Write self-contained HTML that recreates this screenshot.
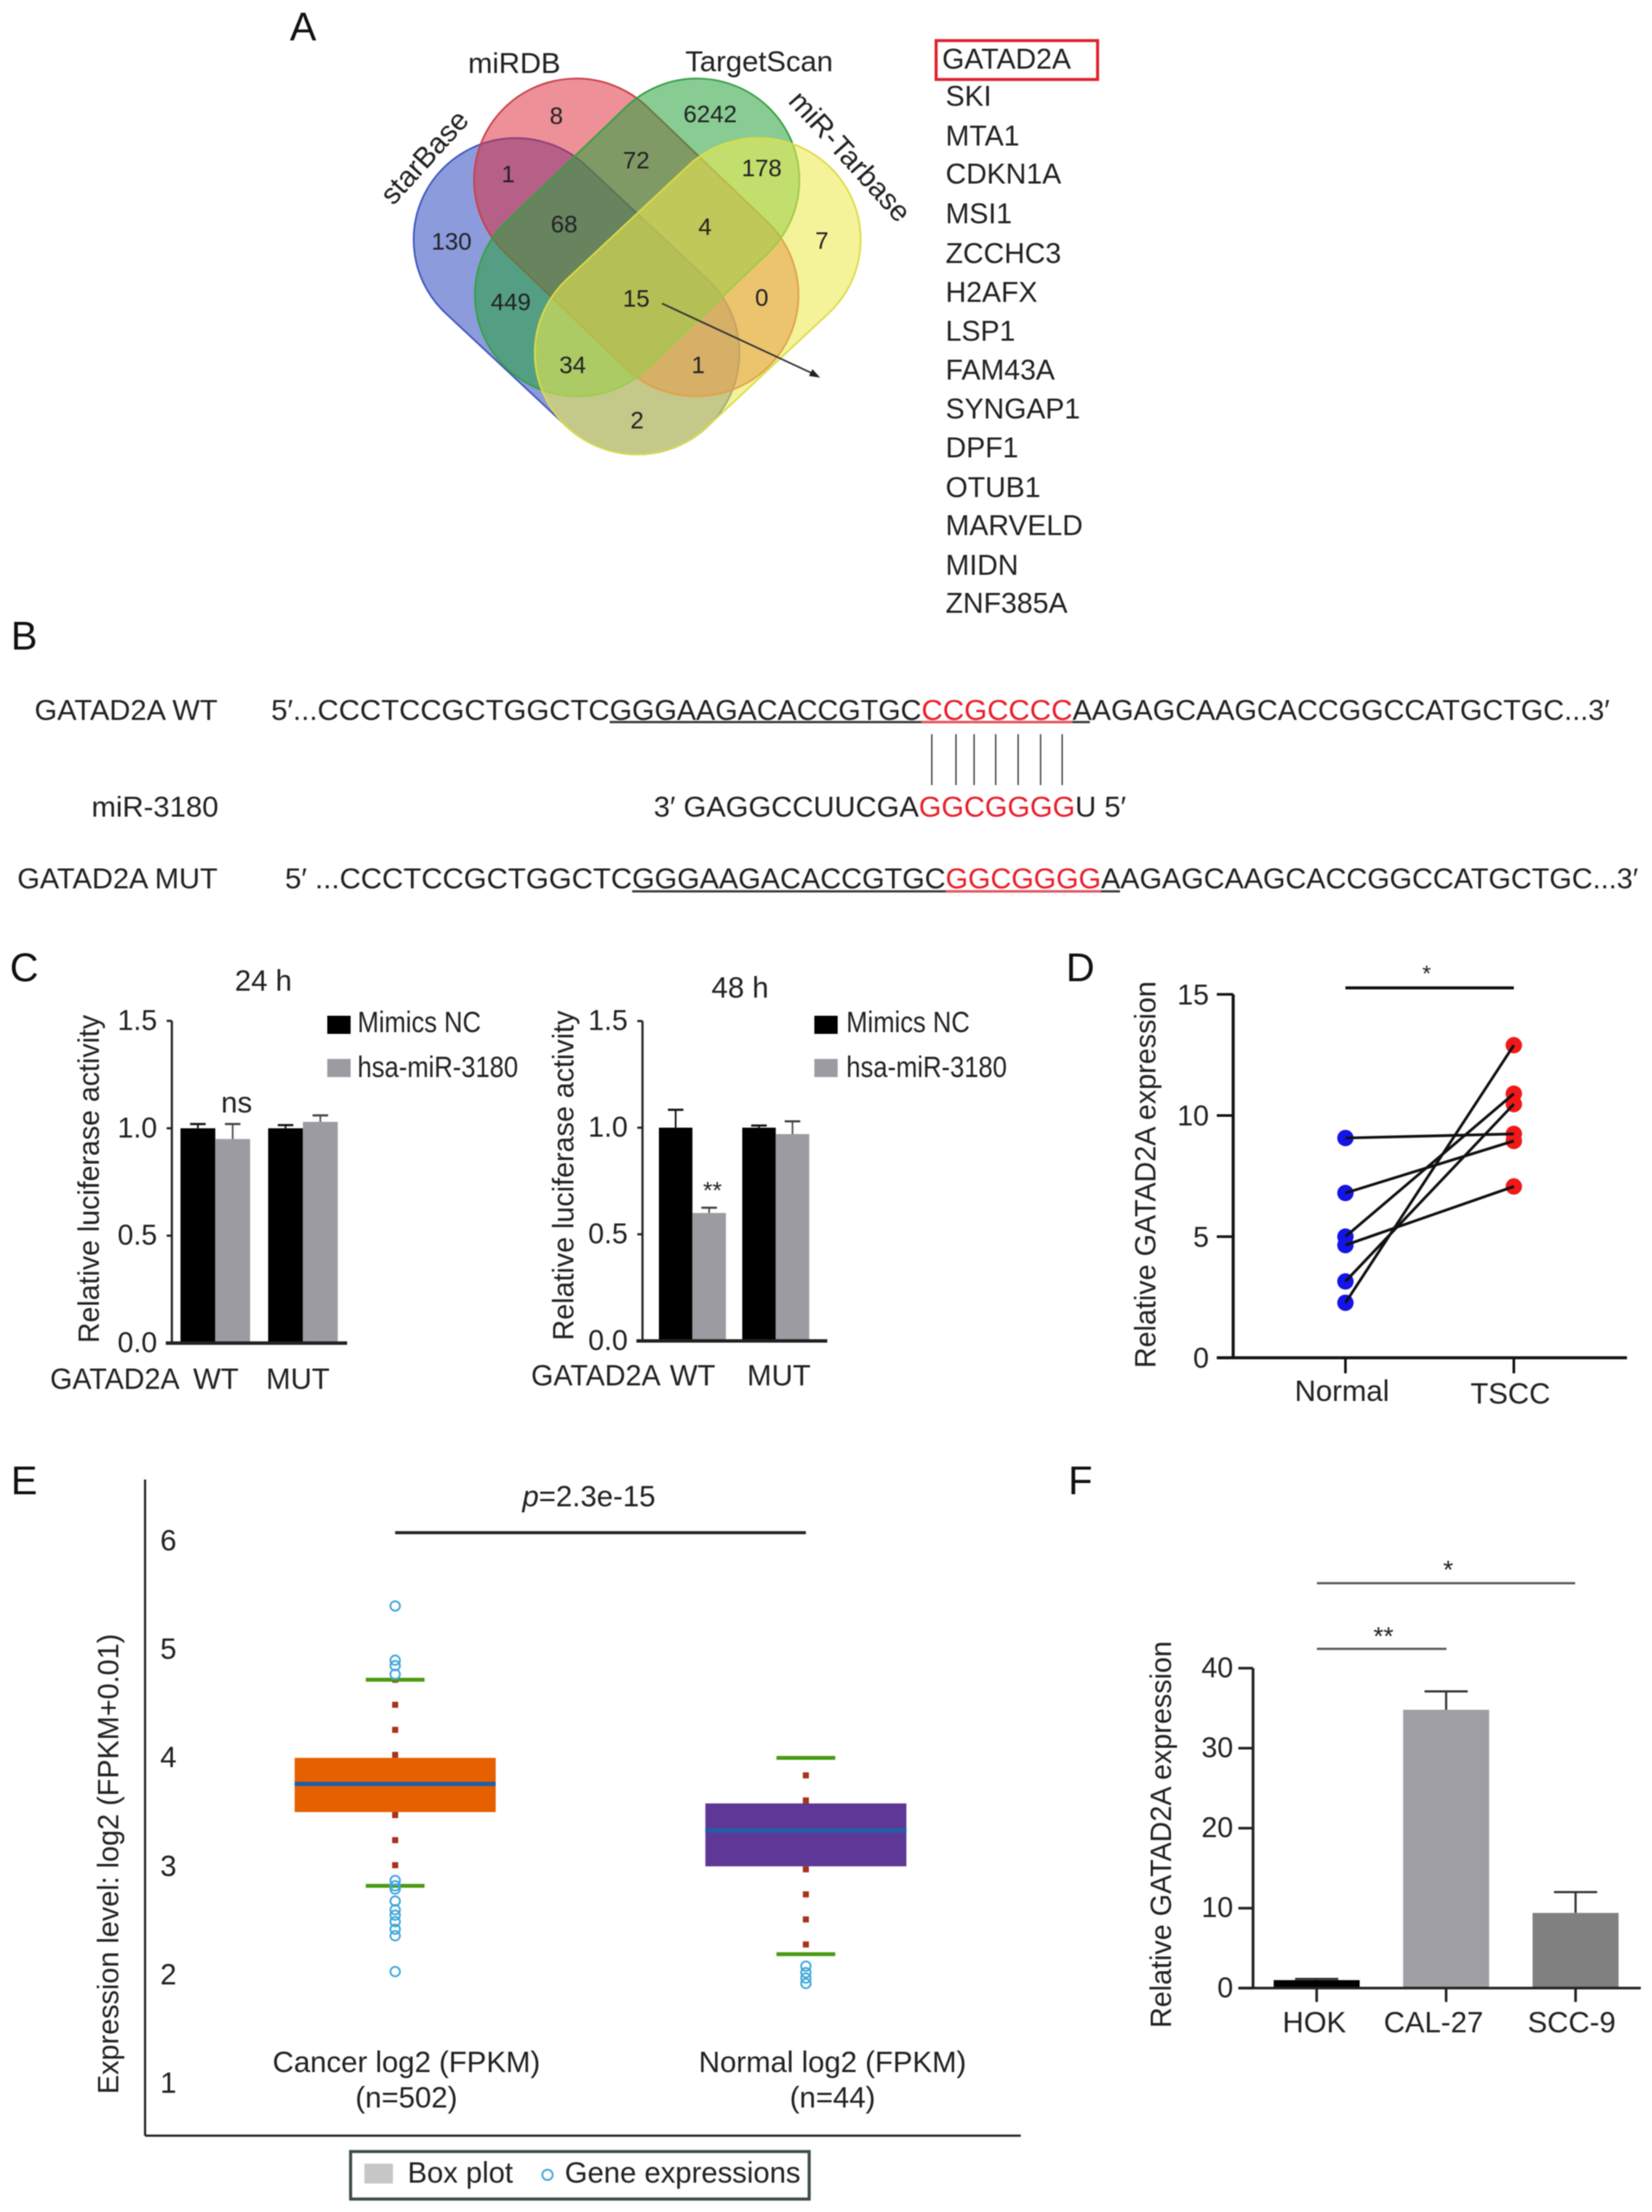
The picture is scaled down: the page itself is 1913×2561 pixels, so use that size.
<!DOCTYPE html>
<html lang="en">
<head>
<meta charset="utf-8">
<title>GATAD2A figure</title>
<style>
html,body{margin:0;padding:0;background:#fff}
svg{display:block;filter:blur(.5px)}
text{font-family:"Liberation Sans",sans-serif;font-size:34px;fill:#222;dominant-baseline:central}
.m{text-anchor:middle}
.e{text-anchor:end}
.letter{font-size:46px;fill:#111}
.seq{font-size:33px}
.gene{font-size:33px}
.red{fill:#e8202c}
.n{font-size:28px;text-anchor:middle}
.tick{font-size:33px;text-anchor:end}
</style>
</head>
<body>
<svg id="fig" xmlns="http://www.w3.org/2000/svg" width="1913" height="2561" viewBox="0 0 1913 2561">
<rect width="1913" height="2561" fill="#fff"/>

<!-- panel letters -->
<text class="letter m" x="351" y="31">A</text>
<text class="letter m" x="28" y="736">B</text>
<text class="letter m" x="28" y="1120">C</text>
<text class="letter m" x="1251" y="1120">D</text>
<text class="letter m" x="28" y="1714">E</text>
<text class="letter m" x="1251" y="1714">F</text>

<!-- Panel A -->
<g transform="matrix(.995 0 0 .987 1.5 0)">
  <rect x="-216" y="-119" width="432" height="238" rx="119" transform="translate(669.5 347.5) rotate(43.3)" fill="#2d48c0" fill-opacity=".55" stroke="#3f55c0" stroke-width="2"/>
  <rect x="-216" y="-119" width="432" height="238" rx="119" transform="translate(739 278.5) rotate(44)" fill="#dc2a3a" fill-opacity=".52" stroke="#c8404a" stroke-width="2"/>
  <rect x="-216" y="-119" width="432" height="238" rx="119" transform="translate(740 278.5) rotate(-44)" fill="#27a33c" fill-opacity=".55" stroke="#36a044" stroke-width="2"/>
  <rect x="-216" y="-119" width="432" height="238" rx="119" transform="translate(810.5 347.5) rotate(-43.3)" fill="#ecea50" fill-opacity=".58" stroke="#dcdc48" stroke-width="2"/>
  <text class="m" x="597" y="75">miRDB</text>
  <text class="m" x="882" y="73">TargetScan</text>
  <text class="m" transform="translate(493 185) rotate(-48)">starBase</text>
  <text class="m" transform="translate(987 184) rotate(48)">miR-Tarbase</text>
  <text class="n" x="646" y="136">8</text>
  <text class="n" x="825" y="134">6242</text>
  <text class="n" x="739" y="188">72</text>
  <text class="n" x="885" y="197">178</text>
  <text class="n" x="590" y="204">1</text>
  <text class="n" x="655" y="263">68</text>
  <text class="n" x="819" y="266">4</text>
  <text class="n" x="524" y="283">130</text>
  <text class="n" x="955" y="282">7</text>
  <text class="n" x="593" y="354">449</text>
  <text class="n" x="739" y="350">15</text>
  <text class="n" x="885" y="349">0</text>
  <text class="n" x="665" y="428">34</text>
  <text class="n" x="811" y="428">1</text>
  <text class="n" x="740" y="493">2</text>
  <line x1="769" y1="356" x2="946" y2="439" stroke="#333" stroke-width="2"/>
  <polygon points="953,443 940,441 944,433" fill="#222"/>
</g>
<g>
  <rect x="1084" y="47" width="187" height="45" fill="none" stroke="#e0222c" stroke-width="3.5"/>
  <text class="gene" x="1091" y="68">GATAD2A</text>
  <text class="gene" x="1095" y="111">SKI</text>
  <text class="gene" x="1095" y="157">MTA1</text>
  <text class="gene" x="1095" y="201">CDKN1A</text>
  <text class="gene" x="1095" y="247">MSI1</text>
  <text class="gene" x="1095" y="293">ZCCHC3</text>
  <text class="gene" x="1095" y="338">H2AFX</text>
  <text class="gene" x="1095" y="383">LSP1</text>
  <text class="gene" x="1095" y="428">FAM43A</text>
  <text class="gene" x="1095" y="473">SYNGAP1</text>
  <text class="gene" x="1095" y="518">DPF1</text>
  <text class="gene" x="1095" y="564">OTUB1</text>
  <text class="gene" x="1095" y="608">MARVELD</text>
  <text class="gene" x="1095" y="654">MIDN</text>
  <text class="gene" x="1095" y="698">ZNF385A</text>
</g>

<!-- Panel B -->
<g>
  <text class="seq" x="40" y="822" textLength="212" lengthAdjust="spacingAndGlyphs">GATAD2A WT</text>
  <text class="seq" x="314" y="822" textLength="392" lengthAdjust="spacingAndGlyphs">5′...CCCTCCGCTGGCTC</text>
  <text class="seq" x="706" y="822" textLength="361" lengthAdjust="spacingAndGlyphs">GGGAAGACACCGTGC</text>
  <text class="seq red" x="1067" y="822" textLength="175" lengthAdjust="spacingAndGlyphs">CCGCCCC</text>
  <text class="seq" x="1242" y="822" textLength="622" lengthAdjust="spacingAndGlyphs">AAGAGCAAGCACCGGCCATGCTGC...3′</text>
  <line x1="706" y1="836" x2="1262" y2="836" stroke="#333" stroke-width="2.5"/>
  <line x1="1067" y1="836" x2="1242" y2="836" stroke="#f0505a" stroke-width="2.5"/>
  <g stroke="#333" stroke-width="1.5">
    <line x1="1079" y1="850" x2="1079" y2="909"/><line x1="1107" y1="850" x2="1107" y2="909"/><line x1="1128" y1="850" x2="1128" y2="909"/><line x1="1153" y1="850" x2="1153" y2="909"/><line x1="1179" y1="850" x2="1179" y2="909"/><line x1="1205" y1="850" x2="1205" y2="909"/><line x1="1230" y1="850" x2="1230" y2="909"/>
  </g>
  <text class="seq" x="106" y="934" textLength="147" lengthAdjust="spacingAndGlyphs">miR-3180</text>
  <text class="seq" x="757" y="934" textLength="307" lengthAdjust="spacingAndGlyphs">3′ GAGGCCUUCGA</text>
  <text class="seq red" x="1064" y="934" textLength="181" lengthAdjust="spacingAndGlyphs">GGCGGGG</text>
  <text class="seq" x="1245" y="934" textLength="59" lengthAdjust="spacingAndGlyphs">U 5′</text>
  <text class="seq" x="20" y="1017" textLength="232" lengthAdjust="spacingAndGlyphs">GATAD2A MUT</text>
  <text class="seq" x="330" y="1017" textLength="402" lengthAdjust="spacingAndGlyphs">5′ ...CCCTCCGCTGGCTC</text>
  <text class="seq" x="732" y="1017" textLength="363" lengthAdjust="spacingAndGlyphs">GGGAAGACACCGTGC</text>
  <text class="seq red" x="1095" y="1017" textLength="180" lengthAdjust="spacingAndGlyphs">GGCGGGG</text>
  <text class="seq" x="1275" y="1017" textLength="622" lengthAdjust="spacingAndGlyphs">AAGAGCAAGCACCGGCCATGCTGC...3′</text>
  <line x1="732" y1="1032" x2="1297" y2="1032" stroke="#333" stroke-width="2.5"/>
  <line x1="1095" y1="1032" x2="1275" y2="1032" stroke="#f0505a" stroke-width="2.5"/>
</g>

<!-- Panel C static text -->
<g>
  <text class="m" x="305" y="1136">24 h</text>
  <text class="m" transform="translate(103.5 1365) rotate(-90)" textLength="380" lengthAdjust="spacingAndGlyphs">Relative luciferase activity</text>
  <rect x="379" y="1176" width="27" height="21" fill="#000"/>
  <text x="414" y="1184" textLength="143" lengthAdjust="spacingAndGlyphs">Mimics NC</text>
  <rect x="379" y="1226" width="27" height="21" fill="#9b9ba1"/>
  <text x="414" y="1236" textLength="186" lengthAdjust="spacingAndGlyphs">hsa-miR-3180</text>
  <text class="m" x="274" y="1277">ns</text>
  <text x="58" y="1597" textLength="150" lengthAdjust="spacingAndGlyphs">GATAD2A</text>
</g>
<g>
  <text class="m" x="857" y="1144">48 h</text>
  <text class="m" transform="translate(653 1361) rotate(-90)" textLength="382" lengthAdjust="spacingAndGlyphs">Relative luciferase activity</text>
  <rect x="943" y="1176" width="27" height="21" fill="#000"/>
  <text x="980" y="1184" textLength="143" lengthAdjust="spacingAndGlyphs">Mimics NC</text>
  <rect x="943" y="1226" width="27" height="21" fill="#9b9ba1"/>
  <text x="980" y="1236" textLength="186" lengthAdjust="spacingAndGlyphs">hsa-miR-3180</text>
  <text class="m" x="825" y="1378" font-size="28" style="font-size:28px">**</text>
  <text x="615" y="1593" textLength="150" lengthAdjust="spacingAndGlyphs">GATAD2A</text>
</g>

<!-- Panel D static -->
<g>
  <text class="m" transform="translate(1327 1360) rotate(-90)" textLength="448" lengthAdjust="spacingAndGlyphs">Relative GATAD2A expression</text>
  <line x1="1558" y1="1143.7" x2="1753" y2="1143.7" stroke="#111" stroke-width="3.5"/>
  <text class="m" x="1652" y="1127" style="font-size:26px">*</text>
</g>

<!-- Panel E static -->
<g>
  <text class="m" x="682" y="1733"><tspan font-style="italic">p</tspan>=2.3e-15</text>
  <line x1="457.6" y1="1774.5" x2="933.2" y2="1774.5" stroke="#222" stroke-width="3.5"/>
  <text class="m" transform="translate(126 2158) rotate(-90)" textLength="533" lengthAdjust="spacingAndGlyphs">Expression level: log2 (FPKM+0.01)</text>
  <rect x="406" y="2491" width="531" height="55" fill="#fff" stroke="#3c4a4a" stroke-width="3.5"/>
  <rect x="422" y="2505" width="33" height="23" fill="#c6c6c6"/>
  <text x="472" y="2516" textLength="122" lengthAdjust="spacingAndGlyphs">Box plot</text>
  <circle cx="634" cy="2518" r="6" fill="none" stroke="#3da5d9" stroke-width="2"/>
  <text x="654" y="2516" textLength="273" lengthAdjust="spacingAndGlyphs">Gene expressions</text>
</g>

<!-- Panel F static -->
<g>
  <text class="m" transform="translate(1345 2124) rotate(-90)" textLength="448" lengthAdjust="spacingAndGlyphs">Relative GATAD2A expression</text>
  <line x1="1525" y1="1833" x2="1824" y2="1833" stroke="#555" stroke-width="2.5"/>
  <text class="m" x="1677" y="1818" style="font-size:30px">*</text>
  <line x1="1525" y1="1909" x2="1675" y2="1909" stroke="#555" stroke-width="2.5"/>
  <text class="m" x="1602" y="1895" style="font-size:30px">**</text>
</g>
<g id="charts"></g>
</svg>

<script>
// Panel C data
const lucGroups = ['WT', 'MUT'];
const luc24Ticks = [0, 0.5, 1, 1.5];
const luc24Nc = [1.0, 1.0];
const luc24Mir = [0.95, 1.03];
const luc24NcErr = [0.02, 0.015];
const luc24MirErr = [0.07, 0.03];
const luc48Ticks = [0, 0.5, 1, 1.5];
const luc48Nc = [1.0, 1.0];
const luc48Mir = [0.6, 0.97];
const luc48NcErr = [0.084, 0.01];
const luc48MirErr = [0.025, 0.06];
// Panel D data
const pairedCategories = ['Normal', 'TSCC'];
const pairedTicks = [0, 5, 10, 15];
const pairedNormal = [9.07, 6.8, 5.0, 4.65, 3.15, 2.27];
const pairedTscc = [9.24, 8.95, 10.9, 7.07, 10.47, 12.9];
// Panel E data
const boxCategories = ['Cancer log2 (FPKM)', 'Normal log2 (FPKM)'];
const boxCounts = ['(n=502)', '(n=44)'];
const boxTicks = [1, 2, 3, 4, 5, 6];
const boxQ1 = [3.5, 3.0];
const boxMedian = [3.76, 3.33];
const boxQ3 = [4.0, 3.58];
const boxWhiskerLow = [2.82, 2.19];
const boxWhiskerHigh = [4.72, 4.0];
const boxOutliersCancer = [5.4, 4.9, 4.85, 4.77, 2.87, 2.82, 2.79, 2.68, 2.6, 2.55, 2.49, 2.42, 2.36, 2.03];
const boxOutliersNormal = [2.08, 2.02, 1.97, 1.92];
// Panel F data
const cellCategories = ['HOK', 'CAL-27', 'SCC-9'];
const cellTicks = [0, 10, 20, 30, 40];
const cellValues = [1.0, 34.8, 9.4];
const cellErrors = [0.15, 2.3, 2.6];

const NS = 'http://www.w3.org/2000/svg';
const root = document.getElementById('charts');
function mk(tag, attrs, text) {
  const el = document.createElementNS(NS, tag);
  for (const k in attrs) el.setAttribute(k, attrs[k]);
  if (text !== undefined) el.textContent = text;
  root.appendChild(el);
  return el;
}
function line(x1, y1, x2, y2, stroke, w) {
  return mk('line', {x1: x1, y1: y1, x2: x2, y2: y2, stroke: stroke, 'stroke-width': w});
}

function luciferase(o) {
  const y = v => o.y0 - v * o.unit;
  const groupX = i => o.x0 + i * o.step;
  o.nc.forEach((v, i) => {
    const el = mk('rect', {x: groupX(i), y: y(v), width: o.bw, height: y(0) - y(v), fill: '#000'});
    
    
    const cx = groupX(i) + o.bw / 2;
    const err = line(cx, y(v), cx, y(v + o.ncErr[i]), '#111', 2);
    
    
    const cap = line(cx - 9, y(v + o.ncErr[i]), cx + 9, y(v + o.ncErr[i]), '#111', 2.5);
    
    
  });
  o.mir.forEach((v, i) => {
    const left = groupX(i) + o.bw;
    const el = mk('rect', {x: left, y: y(v), width: o.bw, height: y(0) - y(v), fill: '#9b9ba1'});
    
    
    const cx = left + o.bw / 2;
    const err = line(cx, y(v), cx, y(v + o.mirErr[i]), '#555', 2);
    
    
    const cap = line(cx - 9, y(v + o.mirErr[i]), cx + 9, y(v + o.mirErr[i]), '#444', 2.5);
    
    
  });
  const ya = line(o.axisX, y(1.5), o.axisX, y(0), '#222', 2.5);
  
  
  const xa = line(o.axisX - 7, y(0), o.axisEnd, y(0), '#222', 4);
  
  
  o.ticks.forEach(t => {
    const tm = line(o.axisX - 6, y(t), o.axisX, y(t), '#222', 2.5);
    
    
    const lb = mk('text', {class: 'tick', x: o.axisX - 17, y: y(t) - 1}, t.toFixed(1));
    
    
  });
  lucGroups.forEach((g, i) => {
    const lb = mk('text', {class: 'm', x: o.labelX[i], y: o.labelY}, g);
    
    
  });
}
luciferase({y0: 1555, unit: 248.7, x0: 209, step: 101.5, bw: 40.3, axisX: 199, axisEnd: 402,
  nc: luc24Nc, mir: luc24Mir, ncErr: luc24NcErr, mirErr: luc24MirErr, ticks: luc24Ticks,
  labelX: [250, 345], labelY: 1597});
luciferase({y0: 1552.5, unit: 246.9, x0: 763, step: 96.5, bw: 38.8, axisX: 744, axisEnd: 958,
  nc: luc48Nc, mir: luc48Mir, ncErr: luc48NcErr, mirErr: luc48MirErr, ticks: luc48Ticks,
  labelX: [802, 902], labelY: 1593});

// Panel D
const pairY = v => 1572 - v * 28.05;
const pairX = i => 1558 + i * 195;
pairedNormal.forEach(v => {
  const d = mk('circle', {cx: pairX(0), cy: pairY(v), r: 9.5, fill: '#1414e6'});
  
  
});
pairedTscc.forEach(v => {
  const d = mk('circle', {cx: pairX(1), cy: pairY(v), r: 9.5, fill: '#f01818'});
  
  
});
pairedNormal.forEach((v, i) => {
  const l = line(pairX(0), pairY(v), pairX(1), pairY(pairedTscc[i]), '#111', 3.2);
  
  
});
{
  const ya = line(1428, pairY(15), 1428, pairY(0), '#111', 3.5);
  
  
  const xa = line(1409, pairY(0), 1884, pairY(0), '#111', 3.5);
  
  
  pairedTicks.forEach(t => {
    const tm = line(1409, pairY(t), 1428, pairY(t), '#111', 3);
    
    
    const lb = mk('text', {class: 'tick', x: 1400, y: pairY(t)}, String(t));
    
    
  });
  pairedCategories.forEach((c, i) => {
    const tm = line(pairX(i), pairY(0), pairX(i), pairY(0) + 18, '#111', 3);
    
    
    const lb = mk('text', {class: 'm', x: pairX(i) - 4, y: 1611 + i * 3}, c);
    
    
  });
}

// Panel E
const boxY = v => 2412 - (v - 1) * 125.6;
const boxX = i => 457.6 + i * 475.6;
const boxFill = ['#e66000', '#5f3796'];
const boxOut = [boxOutliersCancer, boxOutliersNormal];
const labelCx = i => 470.6 + i * 493.5;
boxCategories.forEach((c, i) => {
  const up = line(boxX(i), boxY(boxQ3[i]), boxX(i), boxY(boxWhiskerHigh[i]), '#a8321a', 7);
  up.setAttribute('stroke-dasharray', '7 22');
  up.setAttribute('stroke-dashoffset', '0');
  
  
  const dn = line(boxX(i), boxY(boxQ1[i]), boxX(i), boxY(boxWhiskerLow[i]), '#a8321a', 7);
  dn.setAttribute('stroke-dasharray', '7 22');
  
  
  const b = mk('rect', {x: boxX(i) - 116.4, y: boxY(boxQ3[i]), width: 232.8, height: boxY(boxQ1[i]) - boxY(boxQ3[i]), fill: boxFill[i]});
  
  
  const m = line(boxX(i) - 116.4, boxY(boxMedian[i]), boxX(i) + 116.4, boxY(boxMedian[i]), '#1f5fa6', 5);
  
  
  const capA = line(boxX(i) - 34, boxY(boxWhiskerHigh[i]), boxX(i) + 34, boxY(boxWhiskerHigh[i]), '#4a9a12', 4.5);
  
  
  const capB = line(boxX(i) - 34, boxY(boxWhiskerLow[i]), boxX(i) + 34, boxY(boxWhiskerLow[i]), '#4a9a12', 4.5);
  
  
  boxOut[i].forEach(v => {
    const o = mk('circle', {cx: boxX(i), cy: boxY(v), r: 5.5, fill: 'none', stroke: '#3da5d9', 'stroke-width': 2});
    
    
  });
  const lb = mk('text', {class: 'm', x: labelCx(i), y: 2388}, c);
  
  
  const ct = mk('text', {class: 'm', x: labelCx(i), y: 2429}, boxCounts[i]);
  
  
});
boxTicks.forEach(t => {
  const lb = mk('text', {class: 'm', x: 195, y: boxY(t)}, String(t));
  
  
});
{
  const ya = line(168, 1713, 168, 2472.6, '#222', 2.5);
  
  
  const xa = line(168, 2472.6, 1182, 2472.6, '#222', 2.5);
  
  
}

// Panel F
const cellY = v => 2301.8 - v * 9.26;
const cellX = i => 1524.7 + i * 149.9;
const cellFill = ['#000', '#9e9ea4', '#808080'];
cellCategories.forEach((c, i) => {
  const cx = cellX(i);
  const err = line(cx, cellY(cellValues[i]), cx, cellY(cellValues[i] + cellErrors[i]), '#333', 2.5);
  
  
  const cap = line(cx - 25, cellY(cellValues[i] + cellErrors[i]), cx + 25, cellY(cellValues[i] + cellErrors[i]), '#333', 2.5);
  
  
  const b = mk('rect', {x: cx - 49.8, y: cellY(cellValues[i]), width: 99.6, height: cellY(0) - cellY(cellValues[i]), fill: cellFill[i]});
  
  
  const tm = line(cx, cellY(0), cx, cellY(0) + 16, '#222', 3);
  
  
  const lb = mk('text', {class: 'm', x: [1522, 1660, 1820][i], y: 2342}, c);
  
  
});
cellTicks.forEach(t => {
  const tm = line(1434, cellY(t), 1451, cellY(t), '#222', 3);
  
  
  const lb = mk('text', {class: 'tick', x: 1428, y: cellY(t) - 1}, String(t));
  
  
});
{
  const ya = line(1451, cellY(40), 1451, cellY(0), '#222', 3.2);
  
  
  const xa = line(1434, cellY(0), 1900, cellY(0), '#222', 3);
  
  
}
</script>
</body>
</html>
